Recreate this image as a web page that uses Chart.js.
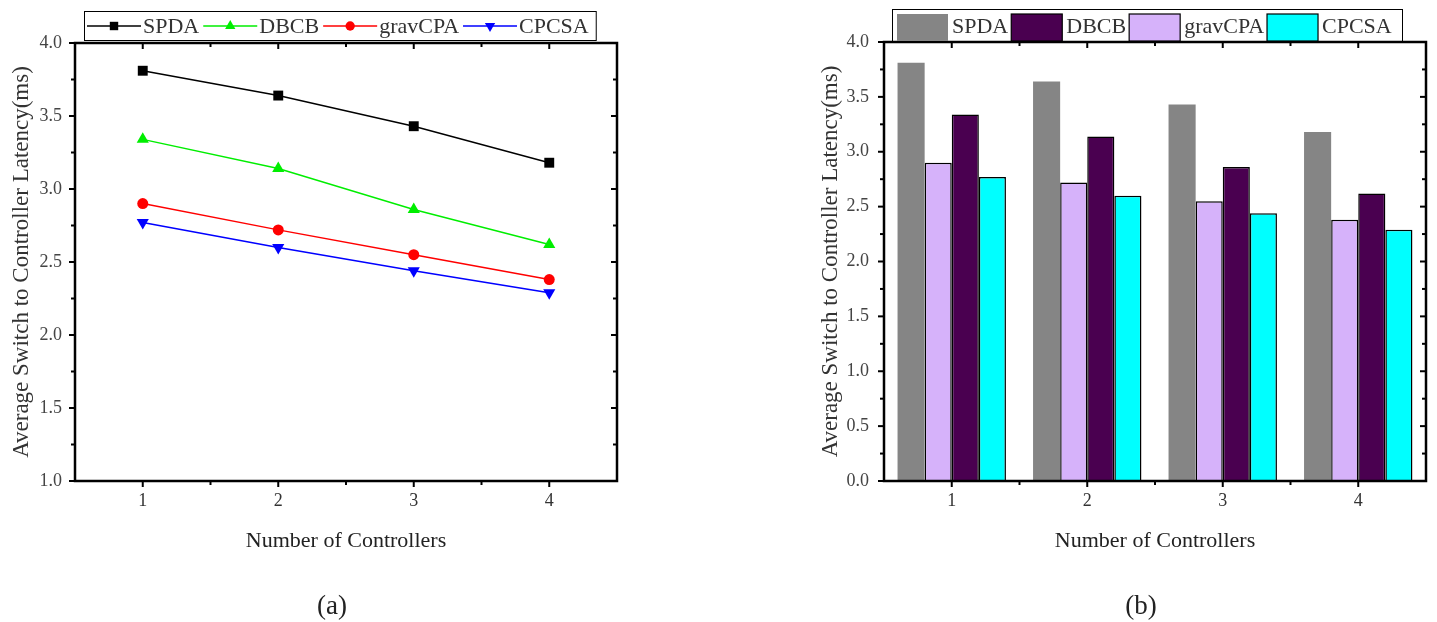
<!DOCTYPE html>
<html><head><meta charset="utf-8">
<script src="https://cdn.jsdelivr.net/npm/chart.js@4/dist/chart.umd.min.js"></script>
<style>
html,body{margin:0;padding:0;background:#fff;width:1437px;height:622px;overflow:hidden;position:relative;font-family:"Liberation Serif","Times New Roman",serif}
#wa{position:absolute;left:0;top:0;width:700px;height:622px}
#wb{position:absolute;left:720px;top:0;width:717px;height:622px}
.cap{position:absolute;top:590px;font-size:27px;line-height:30px;color:#222;transform:translateX(-50%)}
</style></head><body>
<div id="wa"><canvas id="ca"></canvas></div>
<div id="wb"><canvas id="cb"></canvas></div>
<div class="cap" style="left:332px">(a)</div>
<div class="cap" style="left:1141px">(b)</div>
<script>
// ---- data ----
const categories = [1, 2, 3, 4];
const seriesNames = ['SPDA', 'DBCB', 'gravCPA', 'CPCSA'];
const spda    = [3.81, 3.64, 3.43, 3.18];
const dbcb    = [3.34, 3.14, 2.86, 2.62];
const gravcpa = [2.90, 2.72, 2.55, 2.38];
const cpcsa   = [2.77, 2.60, 2.44, 2.29];
const yTicksA = [1.0, 1.5, 2.0, 2.5, 3.0, 3.5, 4.0];
const yTicksB = [0.0, 0.5, 1.0, 1.5, 2.0, 2.5, 3.0, 3.5, 4.0];

const FONT = '"Liberation Serif","Times New Roman",serif';
const yTitle = 'Average Switch to Controller Latency(ms)';
const xTitle = 'Number of Controllers';

const seriesValues = [spda, dbcb, gravcpa, cpcsa];
const lineColors = ['#000000', '#00ee00', '#ff0000', '#0000ff'];
const lineMarkers = ['rect', 'triangle', 'circle', 'triangle'];
const lineRot = [0, 0, 0, 180];
const lineRadius = [7, 7, 5.5, 7];

const barColors = ['#858585', '#4a0050', '#d6b2fa', '#00ffff'];
const barBorder = [0, 1.5, 1.5, 1.5];
const barOrder = [0, 2, 1, 3]; // drawing order inside a group: SPDA, gravCPA, DBCB, CPCSA

function framePlugin(kind){
  return {
    id: 'frame' + kind,
    afterDatasetsDraw(chart){
      const {ctx, chartArea:a} = chart;
      const xs = chart.scales.x, ys = chart.scales.y;
      let xMaj;
      if (kind === 'a') {
        xMaj = categories.map(v => xs.getPixelForValue(v));
      } else {
        xMaj = categories.map((v, i) => xs.getPixelForValue(i));
      }
      const xMin = xMaj.slice(1).map((p, i) => (p + xMaj[i]) / 2);
      const yMaj = ys.ticks.map(t => ys.getPixelForValue(t.value));
      const yMin = yMaj.slice(1).map((p, i) => (p + yMaj[i]) / 2);
      ctx.save();
      ctx.strokeStyle = '#000';
      ctx.lineWidth = 2;
      const seg = (x1,y1,x2,y2)=>{ctx.beginPath();ctx.moveTo(x1,y1);ctx.lineTo(x2,y2);ctx.stroke();};
      xMaj.forEach(p => { seg(p, a.bottom, p, a.bottom + 6); seg(p, a.top, p, a.top + 6); });
      xMin.forEach(p => { seg(p, a.bottom, p, a.bottom + 4); seg(p, a.top, p, a.top + 4); });
      yMaj.forEach(p => { seg(a.left - 6, p, a.left, p); seg(a.right, p, a.right - 6, p); });
      yMin.forEach(p => { seg(a.left - 4, p, a.left, p); seg(a.right, p, a.right - 4, p); });
      ctx.lineWidth = 2.5;
      ctx.strokeRect(a.left, a.top, a.right - a.left, a.bottom - a.top);
      ctx.restore();
    }
  };
}

const legendA = {
  id: 'legendA',
  afterDraw(chart){
    const ctx = chart.ctx;
    ctx.save();
    ctx.font = '22px ' + FONT;
    ctx.textBaseline = 'middle';
    const cy = 26;
    let x = 87;
    chart.data.datasets.forEach((ds, i) => {
      const w = 54;
      ctx.strokeStyle = ds.borderColor; ctx.lineWidth = 1.5;
      ctx.beginPath(); ctx.moveTo(x, cy); ctx.lineTo(x + w, cy); ctx.stroke();
      ctx.fillStyle = ds.borderColor;
      Chart.helpers.drawPoint(ctx, {pointStyle: ds.pointStyle, rotation: ds.pointRotation, radius: ds.pointRadius * 0.85, borderWidth: 0}, x + w / 2, cy);
      x += w + 2;
      ctx.fillStyle = '#333';
      ctx.fillText(ds.label, x, cy + 1);
      x += ctx.measureText(ds.label).width + 4;
    });
    ctx.strokeStyle = '#000'; ctx.lineWidth = 1;
    ctx.strokeRect(84.5, 11.5, Math.max(510, x + 3 - 84), 29);
    ctx.restore();
  }
};

const legendB = {
  id: 'legendB',
  afterDraw(chart){
    const ctx = chart.ctx;
    ctx.save();
    ctx.font = '22px ' + FONT;
    ctx.textBaseline = 'middle';
    const top = 14, h = 27, cy = 27;
    let x = 177;
    [0, 1, 2, 3].forEach(si => {
      const ds = chart.data.datasets.find(d => d.label === seriesNames[si]);
      ctx.fillStyle = ds.backgroundColor;
      ctx.fillRect(x, top, 51, h);
      if (ds.borderWidth > 0) { ctx.strokeStyle = '#000'; ctx.lineWidth = 1.2; ctx.strokeRect(x, top, 51, h); }
      x += 51 + 4;
      ctx.fillStyle = '#333';
      ctx.fillText(ds.label, x, cy);
      x += ctx.measureText(ds.label).width + 3;
    });
    ctx.strokeStyle = '#000'; ctx.lineWidth = 1;
    ctx.strokeRect(172.5, 9.5, Math.max(510, x + 2 - 172), 32);
    ctx.restore();
  }
};

const tickFont = {family: FONT, size: 18};
const titleFont = {family: FONT, size: 22};
const yTitleFont = {family: FONT, size: 23};

new Chart(document.getElementById('ca'), {
  type: 'line',
  data: {
    datasets: seriesNames.map((name, si) => ({
      label: name,
      data: categories.map((c, i) => ({x: c, y: seriesValues[si][i]})),
      borderColor: lineColors[si],
      backgroundColor: lineColors[si],
      borderWidth: 1.5,
      pointStyle: lineMarkers[si],
      pointRotation: lineRot[si],
      pointRadius: lineRadius[si],
      pointHoverRadius: lineRadius[si],
      pointBorderWidth: 0,
      tension: 0
    }))
  },
  options: {
    responsive: true, maintainAspectRatio: false, animation: false,
    events: [],
    layout: {padding: {left: 0, top: 43, right: 83, bottom: 61}},
    plugins: {legend: {display: false}, tooltip: {enabled: false}},
    scales: {
      x: {
        type: 'linear', min: 0.5, max: 4.5,
        afterBuildTicks(s){ s.ticks = categories.map(v => ({value: v})); },
        afterFit(s){ s.height = 80; },
        grid: {display: false, drawTicks: false}, border: {display: false},
        ticks: {font: tickFont, color: '#333', padding: 9, maxRotation: 0, callback: v => String(v)},
        title: {display: true, text: xTitle, font: titleFont, color: '#222', padding: {top: 0, bottom: 7}}
      },
      y: {
        min: 1, max: 4,
        afterBuildTicks(s){ s.ticks = yTicksA.map(v => ({value: v})); },
        afterFit(s){ s.width = 75; },
        grid: {display: false, drawTicks: false}, border: {display: false},
        ticks: {font: tickFont, color: '#444', padding: 13, callback: v => Number(v).toFixed(1)},
        title: {display: true, text: yTitle, font: yTitleFont, color: '#333', padding: {top: 8, bottom: 0}}
      }
    }
  },
  plugins: [framePlugin('a'), legendA]
});

new Chart(document.getElementById('cb'), {
  type: 'bar',
  data: {
    labels: categories.map(String),
    datasets: barOrder.map(si => ({
      label: seriesNames[si],
      data: seriesValues[si],
      backgroundColor: barColors[si],
      borderColor: '#000',
      borderWidth: barBorder[si],
      barPercentage: 1.0,
      categoryPercentage: 0.8
    }))
  },
  options: {
    responsive: true, maintainAspectRatio: false, animation: false,
    events: [],
    layout: {padding: {left: 89, top: 42, right: 11, bottom: 61}},
    plugins: {legend: {display: false}, tooltip: {enabled: false}},
    scales: {
      x: {
        afterFit(s){ s.height = 80; },
        grid: {display: false, drawTicks: false}, border: {display: false},
        ticks: {font: tickFont, color: '#333', padding: 9, maxRotation: 0},
        title: {display: true, text: xTitle, font: titleFont, color: '#222', padding: {top: 0, bottom: 7}}
      },
      y: {
        min: 0, max: 4,
        afterBuildTicks(s){ s.ticks = yTicksB.map(v => ({value: v})); },
        afterFit(s){ s.width = 75; },
        grid: {display: false, drawTicks: false}, border: {display: false},
        ticks: {font: tickFont, color: '#444', padding: 15, callback: v => Number(v).toFixed(1)},
        title: {display: true, text: yTitle, font: yTitleFont, color: '#333', padding: {top: 8, bottom: 0}}
      }
    }
  },
  plugins: [framePlugin('b'), legendB]
});
</script>
</body></html>
